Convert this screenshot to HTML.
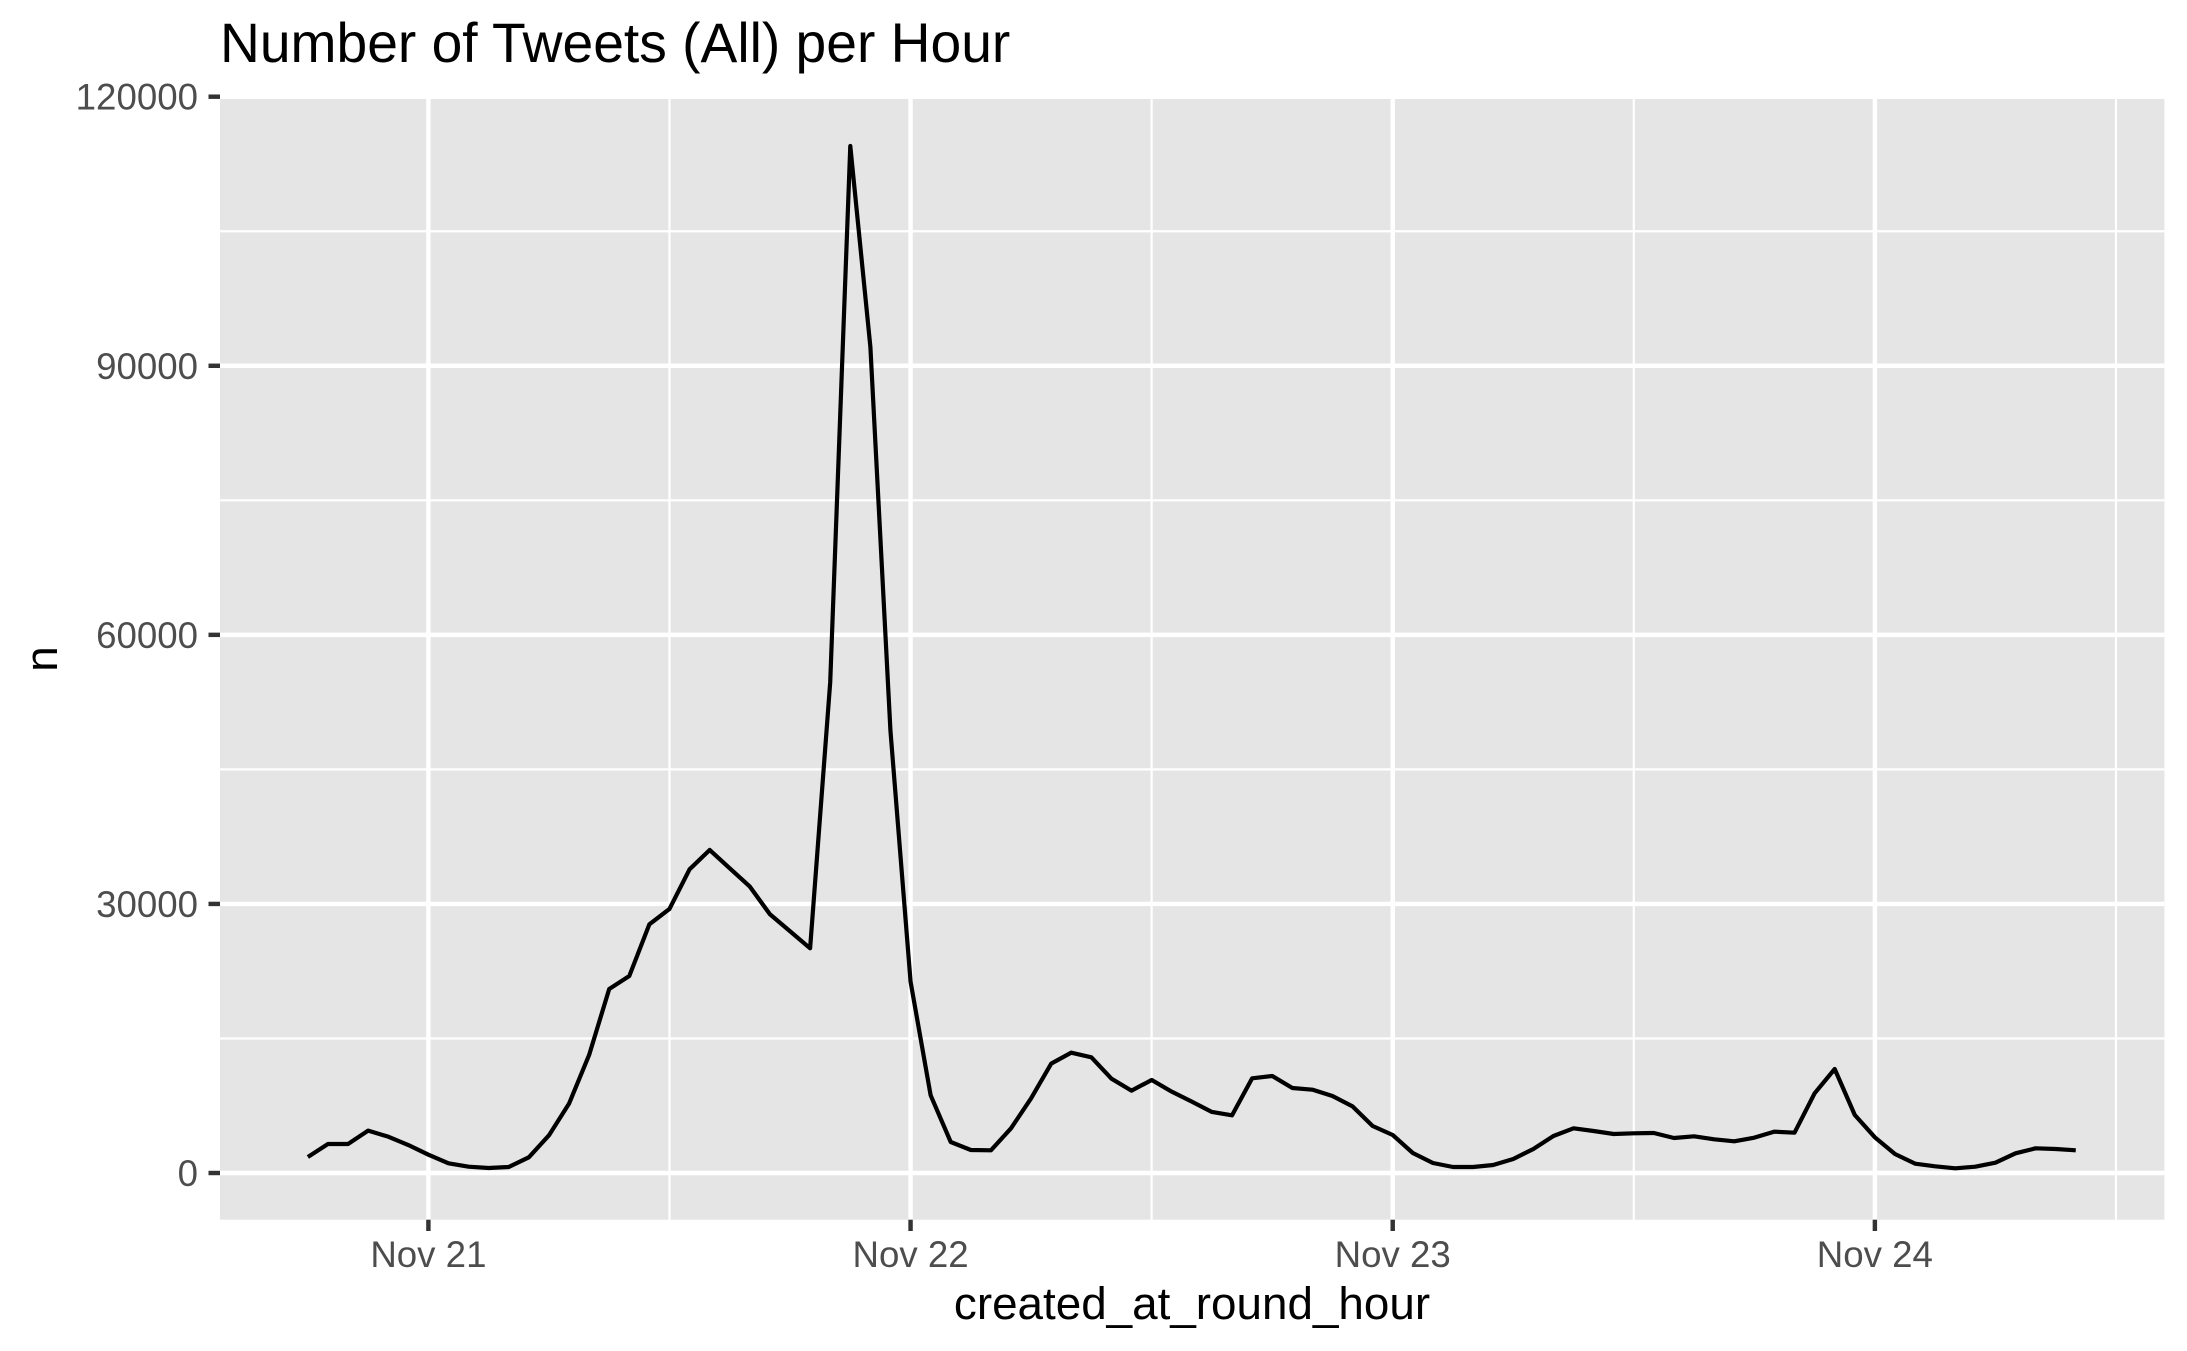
<!DOCTYPE html>
<html>
<head>
<meta charset="utf-8">
<title>Number of Tweets (All) per Hour</title>
<style>
html,body{margin:0;padding:0;background:#fff;width:2187px;height:1351px;overflow:hidden}
svg{display:block;font-family:"Liberation Sans",Arial,sans-serif}
</style>
</head>
<body>
<svg id="chart" xmlns="http://www.w3.org/2000/svg" width="2187" height="1351" viewBox="0 0 2187 1351">
  <defs>
    <clipPath id="panel-clip"><rect x="220" y="99" width="1944.4" height="1120.7"/></clipPath>
  </defs>
  <rect x="0" y="0" width="2187" height="1351" fill="#ffffff"/>
  <text x="220" y="62" font-size="55.2" fill="#000000">Number of Tweets (All) per Hour</text>
  <rect x="220" y="99" width="1944.4" height="1120.7" fill="#e5e5e5"/>
  <g id="grid" clip-path="url(#panel-clip)"></g>
  <g id="series" clip-path="url(#panel-clip)"></g>
  <g id="axes"></g>
  <text x="1192" y="1319" font-size="45.8" text-anchor="middle" fill="#000000">created_at_round_hour</text>
  <text transform="translate(57 659) rotate(-90)" font-size="45.8" text-anchor="middle" fill="#000000">n</text>
</svg>
<script>
// Hours relative to Nov 21 00:00
const hours = [-6,-5,-4,-3,-2,-1,0,1,2,3,4,5,6,7,8,9,10,11,12,13,14,15,16,17,18,19,20,21,22,23,24,25,26,27,28,29,30,31,32,33,34,35,36,37,38,39,40,41,42,43,44,45,46,47,48,49,50,51,52,53,54,55,56,57,58,59,60,61,62,63,64,65,66,67,68,69,70,71,72,73,74,75,76,77,78,79,80,81,82];
const tweetCounts = [1784,3234,3234,4720,4050,3120,2044,1078,706,558,670,1747,4200,7730,13158,20518,21967,27730,29440,33860,36018,33970,31930,28844,26950,25050,54700,114500,92100,49270,21336,8660,3457,2565,2528,4980,8326,12192,13418,12898,10519,9181,10370,9070,7954,6802,6430,10556,10816,9478,9292,8586,7434,5241,4237,2230,1115,669,669,892,1561,2676,4126,4981,4683,4349,4423,4460,3903,4089,3754,3531,3940,4609,4498,8884,11597,6468,3977,2119,1041,743,520,706,1152,2193,2750,2676,2528];
const yMajorTicks = [0,30000,60000,90000,120000];
const yMinorTicks = [15000,45000,75000,105000];
const xMajorTicks = [0,24,48,72];
const xMinorTicks = [12,36,60,84];
const xTickLabels = ['Nov 21','Nov 22','Nov 23','Nov 24'];

const NS = 'http://www.w3.org/2000/svg';
const xScale = h => 428.4 + h * 20.09;
const yScale = v => 1173 - v * (1076.3 / 120000);

function makeLine(parent, x1, y1, x2, y2, stroke, width) {
  const l = document.createElementNS(NS, 'line');
  l.setAttribute('x1', x1);
  l.setAttribute('y1', y1);
  l.setAttribute('x2', x2);
  l.setAttribute('y2', y2);
  l.setAttribute('stroke', stroke);
  l.setAttribute('stroke-width', width);
  parent.appendChild(l);
  return l;
}
function makeText(parent, x, y, anchor, content) {
  const t = document.createElementNS(NS, 'text');
  t.setAttribute('x', x);
  t.setAttribute('y', y);
  t.setAttribute('text-anchor', anchor);
  t.setAttribute('font-size', '36.67');
  t.setAttribute('fill', '#4d4d4d');
  t.textContent = content;
  parent.appendChild(t);
  return t;
}

const grid = document.getElementById('grid');
const axes = document.getElementById('axes');
const series = document.getElementById('series');

yMinorTicks.forEach(v => {
  const el = makeLine(grid, 220, yScale(v), 2164.4, yScale(v), '#ffffff', 2.2);
  
  
});
xMinorTicks.forEach(h => {
  const el = makeLine(grid, xScale(h), 99, xScale(h), 1219.7, '#ffffff', 2.2);
  
  
});
yMajorTicks.forEach(v => {
  const el = makeLine(grid, 220, yScale(v), 2164.4, yScale(v), '#ffffff', 4.44);
  
  
  const tick = makeLine(axes, 208.5, yScale(v), 220, yScale(v), '#333333', 4.44);
  
  
  const label = makeText(axes, 198, yScale(v) + 13, 'end', String(v));
  
  
});
xMajorTicks.forEach((h, i) => {
  const el = makeLine(grid, xScale(h), 99, xScale(h), 1219.7, '#ffffff', 4.44);
  
  
  const tick = makeLine(axes, xScale(h), 1219.7, xScale(h), 1231, '#333333', 4.44);
  
  
  const label = makeText(axes, xScale(h), 1267, 'middle', xTickLabels[i]);
  
  
});

const path = document.createElementNS(NS, 'polyline');
path.setAttribute('points', hours.map((h, i) => xScale(h).toFixed(2) + ',' + yScale(tweetCounts[i]).toFixed(2)).join(' '));
path.setAttribute('fill', 'none');
path.setAttribute('stroke', '#000000');
path.setAttribute('stroke-width', '4.2');
path.setAttribute('stroke-linejoin', 'round');
path.setAttribute('stroke-linecap', 'butt');


series.appendChild(path);
</script>
</body>
</html>
